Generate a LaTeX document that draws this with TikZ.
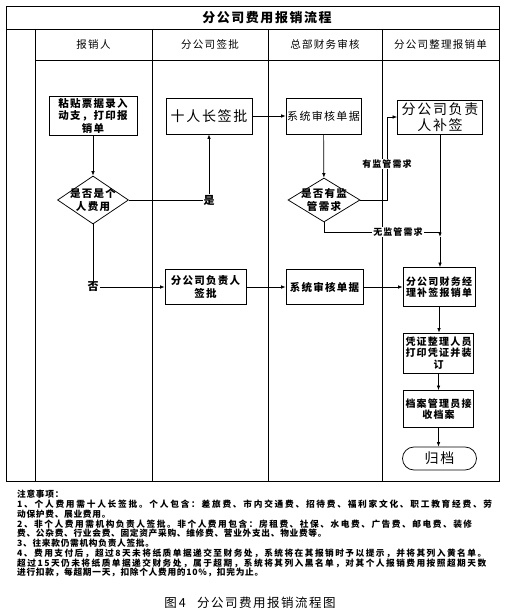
\documentclass[tikz,border=0pt]{standalone}
\usepackage{fontspec}
\setmainfont{Noto Sans CJK SC}
\newfontfamily\lsfont[LetterSpace=12]{Noto Sans CJK SC}
\newfontfamily\notefont[LetterSpace=8]{Noto Sans CJK SC}
\usetikzlibrary{arrows.meta,shapes.geometric}
\ExplSyntaxOn
\NewDocumentCommand\jline{mm}{\hbox_to_wd:nn{#1}{\tl_map_inline:nn{#2}{##1\hskip~0pt~plus~1fil}\unskip}}
\ExplSyntaxOff
\begin{document}
\begin{tikzpicture}[x=1pt,y=-1pt,
  frame/.style={line width=0.8pt},
  box/.style={draw,line width=0.75pt,inner sep=0pt,align=center},
  dia/.style={diamond,draw,line width=0.75pt,inner sep=0pt},
  txt/.style={inner sep=0pt,align=center},
  arr/.style={line width=0.7pt,-{Latex[length=4.5pt,width=3.5pt]}},
  ln/.style={line width=0.7pt},
  lbl/.style={fill=white,inner sep=1pt,font=\lsfont\bfseries\fontsize{9}{10}\selectfont},
  hdr/.style={inner sep=0pt,font=\lsfont\fontsize{10.5}{12}\selectfont},
  fb/.style={font=\lsfont\bfseries\fontsize{10.5}{12.5}\selectfont},
  fs/.style={font=\lsfont\bfseries\fontsize{10}{11.5}\selectfont},
  fl/.style={font=\lsfont\fontsize{14}{15.5}\selectfont},
  note/.style={anchor=west,inner sep=0pt,font=\notefont\bfseries\fontsize{8.7}{10}\selectfont}
]
\useasboundingbox (0,0) rectangle (506,615);
% frame
\draw[frame] (6,6) rectangle (499,481);
\draw[frame] (6,29) -- (499,29);
\draw[frame] (35,60) -- (499,60);
\draw[frame] (35,29) -- (35,481);
\draw[frame] (152,29) -- (152,481);
\draw[frame] (268,29) -- (268,481);
\draw[frame] (382,29) -- (382,481);
\node[inner sep=0pt,font=\lsfont\bfseries\fontsize{13}{14}\selectfont] (title) at (267,17.5) {分公司费用报销流程};
\node[hdr] (h1) at (93.5,44.5) {报销人};
\node[hdr] (h2) at (210,44.5) {分公司签批};
\node[hdr] (h3) at (325,44.5) {总部财务审核};
\node[hdr] (h4) at (440.5,44.5) {分公司整理报销单};
% nodes
\node[box,fb,minimum width=88pt,minimum height=39pt] (A) at (93,115.5) {粘贴票据录入\\动支，打印报\\销单};
\node[dia,minimum width=71pt,minimum height=48pt] (D1) at (93,200) {};
\node[txt,fb] (D1t) at (93,200) {是否是个\\人费用};
\node[box,fl,minimum width=86pt,minimum height=36pt] (B) at (209,116) {十人长签批};
\node[box,font=\lsfont\fontsize{11}{12.5}\selectfont,minimum width=75pt,minimum height=36pt] (C) at (323.5,116) {系统审核单据};
\node[dia,minimum width=72pt,minimum height=44pt] (D2) at (324,200) {};
\node[txt,fb] (D2t) at (324,200) {是否有监\\管需求};
\node[box,fl,minimum width=85pt,minimum height=34pt] (D) at (440,117) {分公司负责\\人补签};
\node[box,fs,minimum width=72pt,minimum height=39pt] (E) at (439,287) {分公司财务经\\理补签报销单};
\node[box,fb,minimum width=81pt,minimum height=35pt] (F) at (205.5,287) {分公司负责人\\签批};
\node[box,fb,minimum width=77pt,minimum height=35pt] (G) at (324.5,287) {系统审核单据};
\node[box,fs,minimum width=70pt,minimum height=40pt] (H) at (438.5,353) {凭证整理人员\\打印凭证并装\\订};
\node[box,fs,minimum width=70pt,minimum height=37pt] (I) at (438.5,409) {档案管理员接\\收档案};
\node[box,fl,minimum width=74pt,minimum height=23pt,rounded corners=11.5pt] (T) at (439.5,458.5) {归档};
% connectors
\draw[arr] (A) -- (D1);
\draw[arr] (D1.east) -| node[pos=0.5,lbl,font=\lsfont\bfseries\fontsize{11}{12}\selectfont]{是} (B.south);
\draw[arr] (B) -- (C);
\draw[arr] (C) -- (D2);
\coordinate (bendA) at (387,200);
\draw[arr] (D2.east) -- (bendA) |- (D.west);
\node[lbl] (lblA) at (387,164) {有监管需求};
\coordinate (bendB) at (324,232);
\coordinate (J0) at (440,232);
\coordinate (J) at (440,237);
\draw[ln] (D2.south) -- (bendB) -- (J0);
\node[lbl] (lblB) at (398,232) {无监管需求};
\draw[arr] (D.south) -- (J);
\draw[arr] (J) -- (E.north -| J);
\draw[arr] (D1.south) |- node[pos=0.5,lbl,font=\lsfont\bfseries\fontsize{11}{12}\selectfont]{否} (F.west);
\draw[arr] (F) -- (G);
\draw[arr] (G) -- (E);
\draw[arr] (E) -- (E |- H.north);
\draw[arr] (H) -- (I);
\draw[arr] (I) -- (I |- T.north);
% notes
\node[note] (n0) at (17,494) {注意事项：};
\node[note] (n1) at (17,504.2) {\jline{475pt}{1、个人费用需十人长签批。个人包含：差旅费、市内交通费、招待费、福利家文化、职工教育经费、劳}};
\node[note] (n2) at (17,514) {动保护费、展业费用。};
\node[note] (n3) at (17,523.8) {\jline{455pt}{2、非个人费用需机构负责人签批。非个人费用包含：房租费、社保、水电费、广告费、邮电费、装修}};
\node[note] (n4) at (17,533.6) {费、公杂费、行业会费、固定资产采购、维修费、营业外支出、物业费等。};
\node[note] (n5) at (17,543.4) {3、往来款仍需机构负责人签批。};
\node[note] (n6) at (17,553.2) {\jline{469pt}{4、费用支付后，超过8天未将纸质单据递交至财务处，系统将在其报销时予以提示，并将其列入黄名单。}};
\node[note] (n7) at (17,563) {\jline{469pt}{超过15天仍未将纸质单据递交财务处，属于超期，系统将其列入黑名单，对其个人报销费用按照超期天数}};
\node[note] (n8) at (17,572.8) {进行扣款，每超期一天，扣除个人费用的10\%，扣完为止。};
\node[inner sep=0pt,font=\lsfont\fontsize{12.5}{14}\selectfont] (cap) at (250,603) {图\,4\hspace{0.9em}分公司费用报销流程图};
\end{tikzpicture}
\end{document}
